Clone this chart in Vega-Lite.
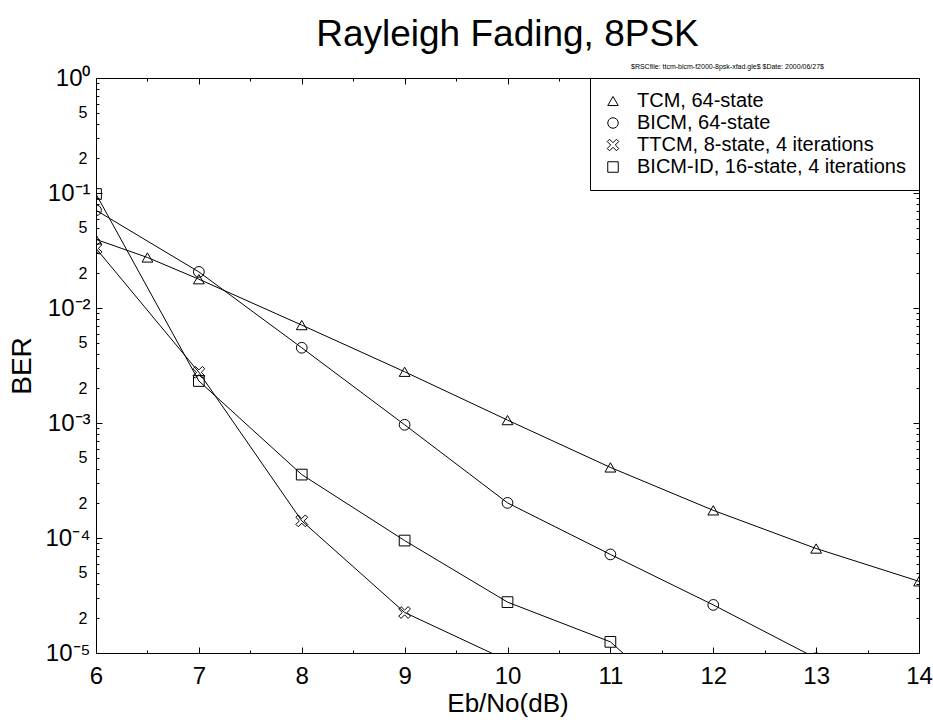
{
  "$schema": "https://vega.github.io/schema/vega-lite/v6.json",
  "autosize": {"type": "none"},
  "padding": {"left": 96, "top": 78, "right": 14, "bottom": 70},
  "width": 823,
  "height": 575,
  "background": "white",
  "title": {"text": "Rayleigh Fading, 8PSK", "fontSize": 37, "font": "Liberation Sans", "fontWeight": "normal", "color": "black", "anchor": "middle", "offset": 8},
  "config": {
    "view": {"stroke": "black", "strokeWidth": 1},
    "axis": {"domainColor": "black", "tickColor": "black", "labelColor": "black", "titleColor": "black", "labelFont": "Liberation Sans", "titleFont": "Liberation Sans", "titleFontWeight": "normal", "grid": false, "domainWidth": 1, "tickWidth": 1},
    "legend": {"orient": "top-right", "offset": 0, "strokeColor": "black", "fillColor": "white", "padding": 13, "labelFont": "Liberation Sans", "labelFontSize": 20, "labelColor": "black", "labelLimit": 500, "symbolStrokeColor": "black", "symbolFillColor": "transparent", "symbolStrokeWidth": 1, "symbolSize": 110, "rowPadding": 2, "labelOffset": 14, "cornerRadius": 0}
  },
  "data": {"values": [
    {"series": "TCM, 64-state", "ebno": 6, "ber": 0.0395},
    {"series": "TCM, 64-state", "ebno": 6.5, "ber": 0.0275},
    {"series": "TCM, 64-state", "ebno": 7, "ber": 0.0178},
    {"series": "TCM, 64-state", "ebno": 8, "ber": 0.0071},
    {"series": "TCM, 64-state", "ebno": 9, "ber": 0.00279},
    {"series": "TCM, 64-state", "ebno": 10, "ber": 0.00106},
    {"series": "TCM, 64-state", "ebno": 11, "ber": 0.000411},
    {"series": "TCM, 64-state", "ebno": 12, "ber": 0.000174},
    {"series": "TCM, 64-state", "ebno": 13, "ber": 0.000081},
    {"series": "TCM, 64-state", "ebno": 14, "ber": 0.000042},
    {"series": "BICM, 64-state", "ebno": 6, "ber": 0.0708},
    {"series": "BICM, 64-state", "ebno": 7, "ber": 0.0206},
    {"series": "BICM, 64-state", "ebno": 8, "ber": 0.00451},
    {"series": "BICM, 64-state", "ebno": 9, "ber": 0.000965},
    {"series": "BICM, 64-state", "ebno": 10, "ber": 0.000202},
    {"series": "BICM, 64-state", "ebno": 11, "ber": 0.000072},
    {"series": "BICM, 64-state", "ebno": 12, "ber": 0.0000262},
    {"series": "BICM, 64-state", "ebno": 13, "ber": 0.000009},
    {"series": "TTCM, 8-state, 4 iterations", "ebno": 6, "ber": 0.033},
    {"series": "TTCM, 8-state, 4 iterations", "ebno": 7, "ber": 0.00276},
    {"series": "TTCM, 8-state, 4 iterations", "ebno": 8, "ber": 0.000141},
    {"series": "TTCM, 8-state, 4 iterations", "ebno": 9, "ber": 0.0000225},
    {"series": "TTCM, 8-state, 4 iterations", "ebno": 10, "ber": 0.0000086},
    {"series": "BICM-ID, 16-state, 4 iterations", "ebno": 6, "ber": 0.098},
    {"series": "BICM-ID, 16-state, 4 iterations", "ebno": 7, "ber": 0.00232},
    {"series": "BICM-ID, 16-state, 4 iterations", "ebno": 8, "ber": 0.000356},
    {"series": "BICM-ID, 16-state, 4 iterations", "ebno": 9, "ber": 0.000095},
    {"series": "BICM-ID, 16-state, 4 iterations", "ebno": 10, "ber": 0.0000277},
    {"series": "BICM-ID, 16-state, 4 iterations", "ebno": 11, "ber": 0.0000125},
    {"series": "BICM-ID, 16-state, 4 iterations", "ebno": 12, "ber": 0.000002}
  ]},
  "layer": [
    {
      "mark": {"type": "line", "color": "black", "strokeWidth": 1, "clip": true},
      "encoding": {
        "x": {"field": "ebno", "type": "quantitative", "scale": {"domain": [6, 14], "nice": false, "zero": false},
          "axis": {"orient": "bottom", "values": [6,6.5,7,7.5,8,8.5,9,9.5,10,10.5,11,11.5,12,12.5,13,13.5,14],
            "labelExpr": "datum.value % 1 == 0 ? '' + datum.value : ''", "labelFontSize": 24, "labelPadding": 17, "labelFlush": false,
            "tickSize": {"condition": {"test": "datum.value % 1 == 0", "value": -6}, "value": -3},
            "title": "Eb/No(dB)", "titleFontSize": 26, "titlePadding": 2}},
        "y": {"field": "ber", "type": "quantitative", "scale": {"type": "log", "domain": [0.00001, 1], "nice": false},
          "axis": {"orient": "left",
            "values": [0.00001,0.00002,0.00003,0.00004,0.00005,0.00006,0.00007,0.00008,0.00009,0.0001,0.0002,0.0003,0.0004,0.0005,0.0006,0.0007,0.0008,0.0009,0.001,0.002,0.003,0.004,0.005,0.006,0.007,0.008,0.009,0.01,0.02,0.03,0.04,0.05,0.06,0.07,0.08,0.09,0.1,0.2,0.3,0.4,0.5,0.6,0.7,0.8,0.9,1],
            "labelExpr": "round(datum.value/pow(10,floor(log(datum.value)/LN10+0.000001))) == 1 ? ['10⁰','10⁻¹','10⁻²','10⁻³','10⁻⁴','10⁻⁵'][round(-log(datum.value)/LN10)] : (indexof([2,5], round(datum.value/pow(10,floor(log(datum.value)/LN10+0.000001)))) >= 0 ? '' + round(datum.value/pow(10,floor(log(datum.value)/LN10+0.000001))) : '')",
            "labelFontSize": {"condition": {"test": "round(datum.value/pow(10,floor(log(datum.value)/LN10+0.000001))) == 1", "value": 24}, "value": 16},
            "tickSize": {"condition": {"test": "round(datum.value/pow(10,floor(log(datum.value)/LN10+0.000001))) == 1", "value": -6}, "value": -3},
            "labelPadding": 12, "labelFlush": false, "labelOverlap": false, "labelBaseline": "middle",
            "title": "BER", "titleFontSize": 28, "titlePadding": 8}},
        "detail": {"field": "series"}
      }
    },
    {
      "mark": {"type": "point", "filled": false, "color": "black", "strokeWidth": 1, "size": 115, "opacity": 1, "clip": true},
      "encoding": {
        "x": {"field": "ebno", "type": "quantitative",
          "axis": {"orient": "top", "values": [6,6.5,7,7.5,8,8.5,9,9.5,10,10.5,11,11.5,12,12.5,13,13.5,14], "labels": false,
            "tickSize": {"condition": {"test": "datum.value % 1 == 0", "value": -6}, "value": -3},
            "title": "$RSCfile: ttcm-bicm-f2000-8psk-xfad.gle$ $Date: 2000/06/27$", "titleFontSize": 7, "titleColor": "black", "titleX": 631, "titleY": -12, "titleAlign": "center", "titleBaseline": "middle"}},
        "y": {"field": "ber", "type": "quantitative",
          "axis": {"orient": "right", "labels": false, "title": null,
            "values": [0.00001,0.00002,0.00003,0.00004,0.00005,0.00006,0.00007,0.00008,0.00009,0.0001,0.0002,0.0003,0.0004,0.0005,0.0006,0.0007,0.0008,0.0009,0.001,0.002,0.003,0.004,0.005,0.006,0.007,0.008,0.009,0.01,0.02,0.03,0.04,0.05,0.06,0.07,0.08,0.09,0.1,0.2,0.3,0.4,0.5,0.6,0.7,0.8,0.9,1],
            "tickSize": {"condition": {"test": "round(datum.value/pow(10,floor(log(datum.value)/LN10+0.000001))) == 1", "value": -6}, "value": -3}}},
        "shape": {"field": "series", "type": "nominal",
          "scale": {"domain": ["TCM, 64-state", "BICM, 64-state", "TTCM, 8-state, 4 iterations", "BICM-ID, 16-state, 4 iterations"],
            "range": ["triangle-up", "circle", "M-0.66,-1.1L0,-0.44L0.66,-1.1L1.1,-0.66L0.44,0L1.1,0.66L0.66,1.1L0,0.44L-0.66,1.1L-1.1,0.66L-0.44,0L-1.1,-0.66Z", "square"]},
          "legend": {"title": null}}
      }
    }
  ],
  "resolve": {"axis": {"x": "independent", "y": "independent"}}
}
